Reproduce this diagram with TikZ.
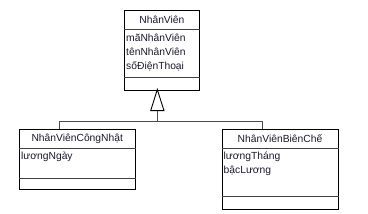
\documentclass[tikz,border=0pt]{standalone}
\usepackage{fontspec}
\setmainfont{Liberation Sans}
\begin{document}
\begin{tikzpicture}[x=1pt,y=-1pt,
  txt/.style={inner sep=0pt, text={rgb,255:red,25;green,25;blue,45}, font=\fontsize{10.3}{12}\selectfont},
  attr/.style={txt, anchor=west},
  classbox/.style={draw=black, line width=1pt, anchor=north west, inner sep=0pt},
  sepline/.style={draw=black!75, line width=0.8pt},
  conn/.style={draw=black!70, line width=0.8pt}]
\useasboundingbox (0,0) rectangle (368,214);
% top class
\node[classbox, minimum width=74.8pt, minimum height=80.3pt] (top) at (124.5,9.7) {};
\draw[sepline] ([yshift=-19.6pt]top.north west) -- ([yshift=-19.6pt]top.north east);
\draw[sepline] ([yshift=-68pt]top.north west) -- ([yshift=-68pt]top.north east);
\node[txt] (topT) at (161.9,19.5) {NhânViên};
\node[attr] (a1) at (126,37.5) {mãNhânViên};
\node[attr] (a2) at (126,52) {tênNhânViên};
\node[attr] (a3) at (126,66) {sốĐiệnThoại};
% left class
\node[classbox, minimum width=115.5pt, minimum height=60pt] (left) at (19.5,129) {};
\draw[sepline] ([yshift=-19pt]left.north west) -- ([yshift=-19pt]left.north east);
\draw[sepline] ([yshift=-49pt]left.north west) -- ([yshift=-49pt]left.north east);
\node[txt] (leftT) at (77.25,138.5) {NhânViênCôngNhật};
\node[attr] (b1) at (21,156.5) {lươngNgày};
% right class
\node[classbox, minimum width=116pt, minimum height=80pt] (right) at (222,129) {};
\draw[sepline] ([yshift=-19pt]right.north west) -- ([yshift=-19pt]right.north east);
\draw[sepline] ([yshift=-67pt]right.north west) -- ([yshift=-67pt]right.north east);
\node[txt] (rightT) at (280,138.5) {NhânViênBiênChế};
\node[attr] (c1) at (223.5,157) {lươngTháng};
\node[attr] (c2) at (223.5,171) {bậcLương};
% generalization
\coordinate (apex) at (157.3,89.5);
\coordinate (tb) at (157.3,110.7);
\coordinate (j) at (157.3,121.7);
\coordinate (lj) at (59,121.7);
\coordinate (rj) at (262.7,121.7);
\draw[conn] (tb) -- (j);
\draw[conn] (left.north -| lj) -- (lj) -- (rj) -- (right.north -| rj);
\draw[line width=0.9pt, fill=white] (apex) -- ([xshift=-6.6pt]tb) -- ([xshift=6.7pt]tb) -- cycle;
\end{tikzpicture}
\end{document}
